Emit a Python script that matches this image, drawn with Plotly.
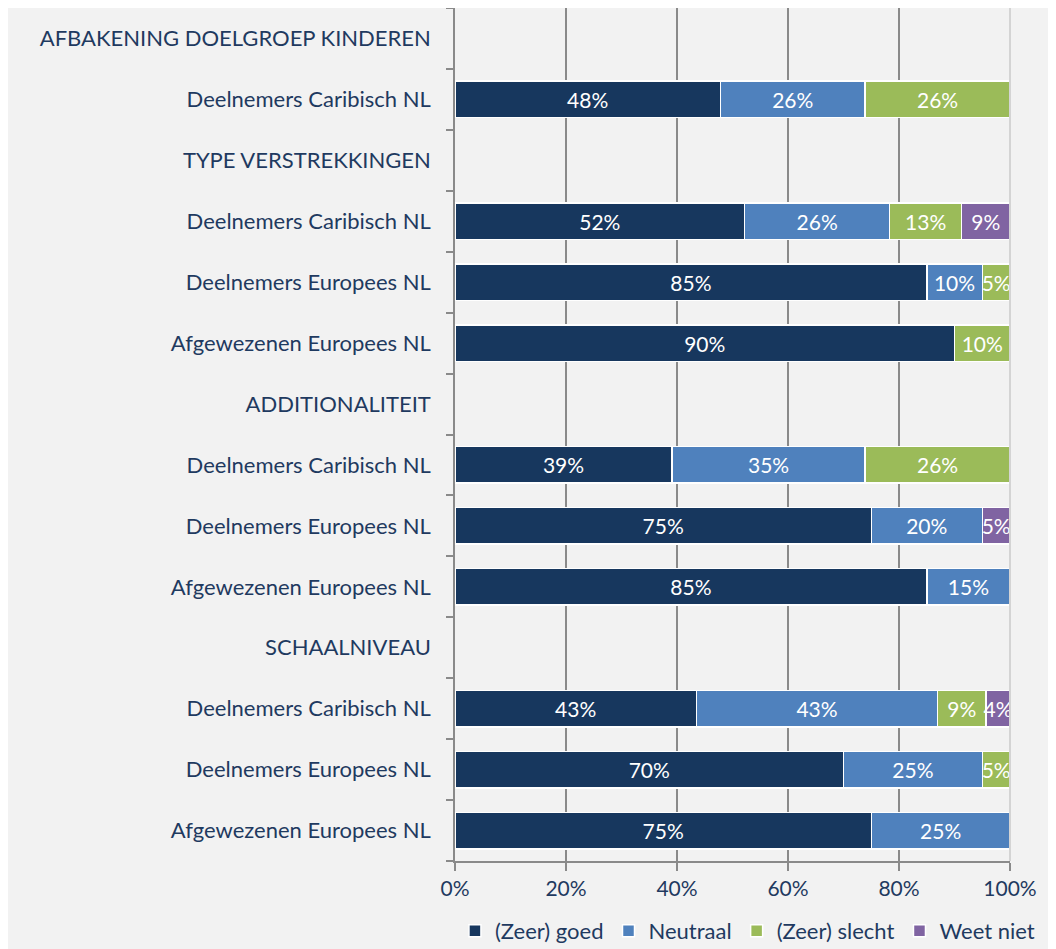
import plotly.graph_objects as go

categories = [
    "AFBAKENING DOELGROEP KINDEREN",
    "Deelnemers Caribisch NL",
    "TYPE VERSTREKKINGEN",
    "Deelnemers Caribisch NL",
    "Deelnemers Europees NL",
    "Afgewezenen Europees NL",
    "ADDITIONALITEIT",
    "Deelnemers Caribisch NL",
    "Deelnemers Europees NL",
    "Afgewezenen Europees NL",
    "SCHAALNIVEAU",
    "Deelnemers Caribisch NL",
    "Deelnemers Europees NL",
    "Afgewezenen Europees NL",
]

zeer_goed = [None, 47.8, None, 52.2, 85, 90, None, 39.1, 75, 85, None, 43.48, 70, 75]
neutraal = [None, 26.1, None, 26.1, 10, None, None, 34.8, 20, 15, None, 43.48, 25, 25]
zeer_slecht = [None, 26.1, None, 13.0, 5, 10, None, 26.1, None, None, None, 8.7, 5, None]
weet_niet = [None, None, None, 8.7, None, None, None, None, 5, None, None, 4.34, None, None]

series = [
    ("(Zeer) goed", zeer_goed, "#17375e"),
    ("Neutraal", neutraal, "#4f81bd"),
    ("(Zeer) slecht", zeer_slecht, "#9bbb59"),
    ("Weet niet", weet_niet, "#8064a2"),
]

x_ticks = [0, 20, 40, 60, 80, 100]
x_ticklabels = ["0%", "20%", "40%", "60%", "80%", "100%"]

FONT = "Lato"
TXT = "#1f3a60"
GRID = "#8a8a8a"

ypos = list(range(len(categories)))

fig = go.Figure()
for name, vals, col in series:
    fig.add_trace(go.Bar(
        y=ypos, x=vals, name=name, orientation="h",
        marker=dict(color=col, line=dict(color="white", width=1.5)),
        width=0.6,
        texttemplate="%{x:.0f}%", textposition="inside", textangle=0,
        insidetextanchor="middle", constraintext="none",
        textfont=dict(color="white", size=21, family=FONT),
        hoverinfo="skip",
    ))

# invisible trace on second y axis for boundary tick marks
fig.add_trace(go.Scatter(x=[None], y=[None], yaxis="y2", showlegend=False, hoverinfo="skip"))

fig.update_layout(
    barmode="stack",
    width=1056, height=949,
    paper_bgcolor="#f2f2f2", plot_bgcolor="#f2f2f2",
    margin=dict(l=447, r=54, t=0, b=96),
    font=dict(family=FONT, size=21, color=TXT),
    xaxis=dict(
        range=[0, 100], tickvals=x_ticks, ticktext=x_ticklabels,
        showgrid=True, gridcolor=GRID, gridwidth=1.5,
        ticks="outside", ticklen=8, tickcolor=GRID, tickwidth=1.5,
        showline=True, linecolor=GRID, linewidth=1.5,
        zeroline=False, tickfont=dict(size=21, color=TXT, family=FONT),
    ),
    yaxis=dict(
        range=[len(categories) - 0.5, -0.5],
        tickvals=ypos, ticktext=categories,
        ticks="outside", ticklen=18, tickcolor="rgba(0,0,0,0)",
        showline=True, linecolor=GRID, linewidth=1.5,
        showgrid=False, zeroline=False,
        tickfont=dict(size=22, color=TXT, family=FONT),
    ),
    yaxis2=dict(
        overlaying="y", side="left",
        range=[len(categories) - 0.5, -0.5],
        tickvals=[i - 0.5 for i in range(len(categories) + 1)],
        ticktext=[""] * (len(categories) + 1),
        ticks="outside", ticklen=8, tickcolor=GRID, tickwidth=1.5,
        showgrid=False, zeroline=False, showline=False,
    ),
    legend=dict(
        orientation="h", x=-0.0001, xanchor="left", y=-0.082, yanchor="middle",
        font=dict(size=22, color=TXT, family=FONT),
        traceorder="normal", itemwidth=30, bgcolor="rgba(0,0,0,0)",
    ),
    shapes=[dict(type="line", xref="paper", yref="paper", x0=1, x1=1, y0=0, y1=1,
                 line=dict(color="#d4d4d4", width=2), layer="above")],
)

fig.write_html("out.html")
